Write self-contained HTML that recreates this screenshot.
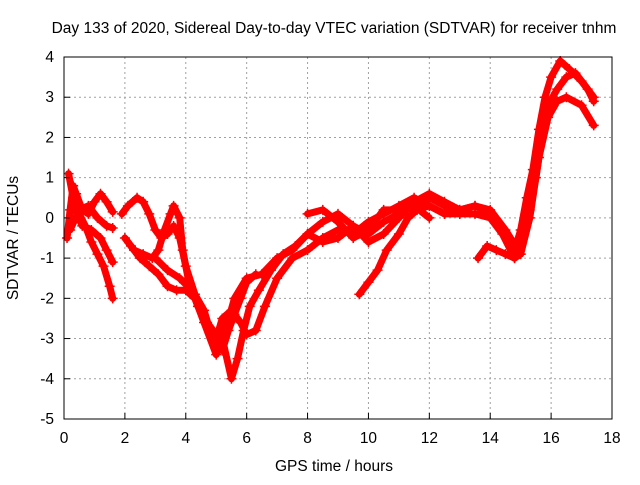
<!DOCTYPE html>
<html><head><meta charset="utf-8"><style>
body{margin:0;background:#fff}
svg text{font-family:"Liberation Sans",sans-serif;font-size:15.5px;fill:#000}
</style></head><body>
<svg id="c" width="640" height="480" xmlns="http://www.w3.org/2000/svg">
<rect width="640" height="480" fill="#fff"/>
<g id="grid"></g>
<g id="series"></g>
<rect x="64" y="57" width="548" height="362" fill="none" stroke="#000" stroke-width="1"/>
<g id="ticks"></g>
<text x="334" y="33" text-anchor="middle">Day 133 of 2020, Sidereal Day-to-day VTEC variation (SDTVAR) for receiver tnhm</text>
<text x="334" y="471" text-anchor="middle">GPS time / hours</text>
<text x="0" y="0" text-anchor="middle" transform="translate(18,238) rotate(-90)">SDTVAR / TECUs</text>
</svg>
<script>
const xTicks=[0,2,4,6,8,10,12,14,16,18];
const yTicks=[-5,-4,-3,-2,-1,0,1,2,3,4];
const sA=[[0.1,-0.5],[0.2,0.2],[0.3,0.8],[0.4,0.6],[0.6,0.2],[0.8,0.1],[1.0,0.4],[1.2,0.6],[1.4,0.4],[1.6,0.15]];
const sB=[[0.15,1.1],[0.3,0.5],[0.5,0.1],[0.7,-0.2],[0.9,-0.6],[1.1,-0.9],[1.3,-1.2],[1.5,-1.7],[1.6,-2.0]];
const sC=[[0.3,0.3],[0.6,-0.2],[0.9,-0.3],[1.2,-0.5],[1.4,-0.8],[1.6,-1.1]];
const sD=[[0.2,-0.3],[0.5,0.2],[0.8,0.3],[1.1,0.0],[1.4,-0.2],[1.6,-0.25]];
const sE=[[1.9,0.1],[2.1,0.3],[2.4,0.5],[2.6,0.4],[2.8,0.1],[3.0,-0.3],[3.2,-0.5],[3.4,-0.4],[3.6,-0.2],[3.8,-0.5],[4.0,-1.2],[4.3,-1.9],[4.6,-2.3],[4.8,-2.8],[5.0,-3.2],[5.2,-3.3],[5.4,-2.8],[5.6,-2.4],[5.8,-2.0],[6.0,-1.6],[6.3,-1.4]];
const sF=[[2.0,-0.5],[2.3,-0.8],[2.6,-0.9],[2.9,-1.0],[3.1,-0.8],[3.3,-0.3],[3.5,0.1],[3.6,0.3],[3.8,0.0],[3.9,-0.8],[4.1,-1.6],[4.4,-2.2],[4.7,-2.6],[5.0,-3.0],[5.2,-2.5],[5.5,-2.3],[5.8,-2.6],[6.0,-2.9],[6.3,-2.8],[6.6,-2.2],[7.0,-1.5],[7.5,-1.0],[8.0,-0.8],[8.5,-0.5],[9.0,-0.3],[9.5,-0.4],[10,-0.1],[10.5,0.1],[11,0.3],[11.5,0.5],[12,0.3],[12.5,0.1],[13,0.2],[13.5,0.3],[14,0.1],[14.5,-0.4],[14.8,-0.8],[15,-0.3],[15.2,0.5],[15.4,1.2],[15.6,2.2],[15.8,3.0],[16,3.5],[16.3,3.9],[16.6,3.7],[17,3.4],[17.4,3.0]];
const sG=[[2.2,-0.7],[2.5,-1.0],[2.8,-1.2],[3.1,-1.4],[3.4,-1.7],[3.7,-1.8],[4.0,-1.8],[4.3,-2.0],[4.6,-2.5],[4.9,-2.8],[5.2,-3.0],[5.5,-4.0],[5.7,-3.5],[5.9,-2.8],[6.1,-2.2],[6.4,-1.8],[6.8,-1.3],[7.2,-0.9],[7.6,-0.7],[8.0,-0.4],[8.5,-0.6],[9,-0.5],[9.5,-0.2],[10,-0.4],[10.5,-0.1],[11,0.1],[11.5,0.3],[12,0.5],[12.5,0.3],[13,0.1],[13.5,0.1],[14,0.0],[14.4,-0.4],[14.8,-1.0],[15.0,-0.6],[15.3,0.2],[15.5,1.0],[15.7,2.0],[15.9,2.8],[16.2,3.2],[16.5,3.5],[16.8,3.6],[17.2,3.2],[17.4,2.9]];
const sH=[[3.0,-1.0],[3.4,-1.3],[3.8,-1.5],[4.2,-1.8],[4.6,-2.6],[5.0,-3.4],[5.3,-2.8],[5.6,-2.0],[6.0,-1.5],[6.5,-1.4],[7,-1.0],[7.5,-0.8],[8,-0.4],[8.5,-0.1],[9,0.1],[9.5,-0.2],[10,-0.6],[10.5,-0.4],[11,0.0],[11.5,0.4],[12,0.6],[12.5,0.4],[13,0.2],[13.5,0.3],[14,0.2],[14.5,-0.3],[15,-0.9],[15.3,0.0],[15.6,1.5],[15.9,2.5],[16.2,2.9],[16.5,3.0],[17,2.8],[17.4,2.3]];
const sI=[[8,0.1],[8.5,0.2],[9,-0.1],[9.5,-0.5],[10,-0.3],[10.5,0.2],[11,0.2],[11.5,0.3],[12,0.0]];
const sJ=[[9.7,-1.9],[10,-1.6],[10.3,-1.3],[10.6,-0.8],[11,-0.4],[11.3,0.0],[11.6,0.2],[12,0.3],[12.5,0.1],[13,0.1]];
const sK=[[13.6,-1.0],[13.9,-0.7],[14.2,-0.8],[14.5,-0.9],[14.8,-1.0],[15,-0.9]];
const allSeries=[sA,sB,sC,sD,sE,sF,sG,sH,sI,sJ,sK];
const X0=64,X1=612,Y0=419,Y1=57;
function xs(v){return X0+(v-0)/(18-0)*(X1-X0);}
function ys(v){return Y0-(v+5)/(4+5)*(Y0-Y1);}
const NS="http://www.w3.org/2000/svg";
const grid=document.getElementById('grid'),ticks=document.getElementById('ticks'),ser=document.getElementById('series');
function mk(t,a,p){const e=document.createElementNS(NS,t);for(const k in a)e.setAttribute(k,a[k]);p.appendChild(e);return e;}
xTicks.forEach(v=>{const x=xs(v);
 if(v>0&&v<18){const l=mk('line',{x1:x,x2:x,y1:Y1,y2:Y0,stroke:'#a0a0a0','stroke-dasharray':'2,3'},grid);
 }
 const t=mk('line',{x1:x,x2:x,y1:Y0,y2:Y0-6,stroke:'#000'},ticks);
 
 const tx=mk('text',{x:x,y:Y0+24,'text-anchor':'middle'},ticks);tx.textContent=v;
 });
yTicks.forEach(v=>{const y=ys(v);
 if(v>-5&&v<4){const l=mk('line',{x1:X0,x2:X1,y1:y,y2:y,stroke:'#a0a0a0','stroke-dasharray':'2,3'},grid);
 }
 const t=mk('line',{x1:X0,x2:X0+6,y1:y,y2:y,stroke:'#000'},ticks);
 
 const tx=mk('text',{x:X0-10,y:y+5,'text-anchor':'end'},ticks);tx.textContent=v;
 });
allSeries.forEach((s,i)=>{
 const g=mk('g',{},ser);
 
 
 mk('polyline',{points:s.map(p=>xs(p[0])+','+ys(p[1])).join(' '),fill:'none',stroke:'#f00','stroke-width':7,'stroke-linejoin':'round','stroke-linecap':'round'},g);
 s.forEach(p=>{const x=xs(p[0]),y=ys(p[1]);
  const m=mk('path',{d:`M${x-5},${y}H${x+5}M${x},${y-5}V${y+5}`,stroke:'#f00','stroke-width':1.5},g);
  });
});
</script>
</body></html>
